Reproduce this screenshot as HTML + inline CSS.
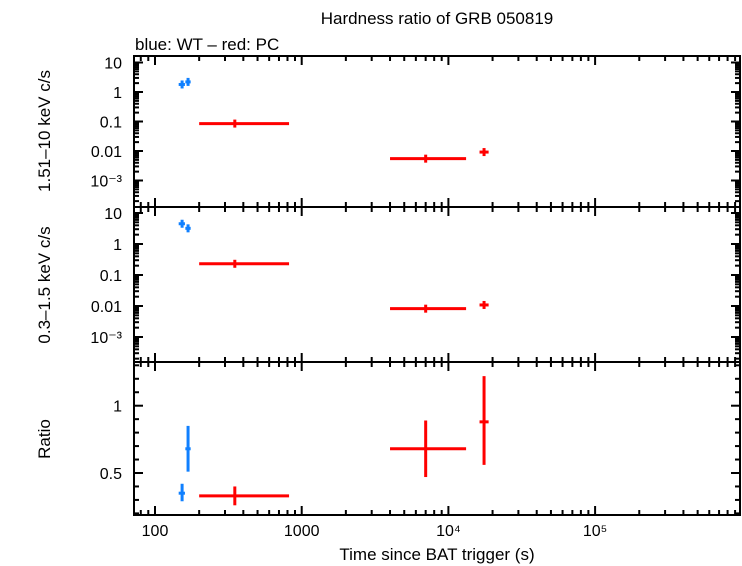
<!DOCTYPE html>
<html><head><meta charset="utf-8"><style>
body{margin:0;background:#fff}
svg{display:block;font-family:"Liberation Sans",sans-serif}
</style></head><body>
<svg id="c" width="742" height="566"></svg>
<script>
const wtTime=[153,168];
const wtTimeLo=[145,161];
const wtTimeHi=[160,175];
const wtHard=[1.8,2.2];
const wtSoft=[4.5,3.2];
const wtRatio=[0.35,0.68];
const wtRatioLo=[0.29,0.51];
const wtRatioHi=[0.42,0.85];
const pcTime=[350,7000,17500];
const pcTimeLo=[200,4000,16300];
const pcTimeHi=[820,13200,18800];
const pcHard=[0.085,0.0055,0.0092];
const pcSoft=[0.23,0.0082,0.0108];
const pcRatio=[0.33,0.68,0.88];
const pcRatioLo=[0.26,0.47,0.56];
const pcRatioHi=[0.40,0.89,1.22];
const xTickLabels=["100","1000","10⁴","10⁵"];
const logYLabels=["10","1","0.1","0.01","10⁻³"];
const ratioTicks=[0.5,1];

const S=document.getElementById('c');const NS='http://www.w3.org/2000/svg';
function el(t,a,p){const e=document.createElementNS(NS,t);for(const k in a)e.setAttribute(k,a[k]);(p||S).appendChild(e);return e;}
const L=134,R=740;
const X=t=>155+146.7*Math.log10(t/100);
const P=[{top:56,bot:207,y:v=>62.5+29.5*(1-Math.log10(v))},
         {top:207,bot:362,y:v=>213+31*(1-Math.log10(v))},
         {top:362,bot:515,y:v=>405.7+134.6*(1-v)}];
P.forEach((p,i)=>{const r=el('rect',{x:L,y:p.top,width:R-L,height:p.bot-p.top,fill:'none',stroke:'#000','stroke-width':2});
});
for(let d=1;d<=5;d++)for(let m=1;m<10;m++){const t=m*Math.pow(10,d);const x=X(t);if(x<L||x>R)continue;
 const len=m==1?9:5;P.forEach(p=>{el('line',{x1:x,x2:x,y1:p.top,y2:p.top+len,stroke:'#000','stroke-width':2});el('line',{x1:x,x2:x,y1:p.bot,y2:p.bot-len,stroke:'#000','stroke-width':2});});}
xTickLabels.forEach((s,i)=>{const t=el('text',{x:X(100*Math.pow(10,i)),y:536,'font-size':16,'text-anchor':'middle'});t.textContent=s;
});
[0,1].forEach(pi=>{const p=P[pi];for(let d=-4;d<=1;d++)for(let m=1;m<10;m++){const v=m*Math.pow(10,d);const y=p.y(v);if(y<p.top||y>p.bot)continue;
 const len=m==1?9:5;el('line',{x1:L,x2:L+len,y1:y,y2:y,stroke:'#000','stroke-width':2});el('line',{x1:R,x2:R-len,y1:y,y2:y,stroke:'#000','stroke-width':2});}
 logYLabels.forEach((s,i)=>{const t=el('text',{x:122,y:p.y(Math.pow(10,1-i))+6,'font-size':16,'text-anchor':'end'});t.textContent=s;
 });});
for(let k=2;k<=13;k++){const v=k/10;const y=P[2].y(v);if(y<P[2].top||y>P[2].bot)continue;const maj=(k==5||k==10);const len=maj?9:5;
 el('line',{x1:L,x2:L+len,y1:y,y2:y,stroke:'#000','stroke-width':2});el('line',{x1:R,x2:R-len,y1:y,y2:y,stroke:'#000','stroke-width':2});}
ratioTicks.forEach(v=>{const t=el('text',{x:122,y:P[2].y(v)+6,'font-size':16,'text-anchor':'end'});t.textContent=String(v);
});
function pt(x,lo,hi,y,ylo,yhi,col,name){const g=el('g',{});
 el('line',{x1:X(lo),x2:X(hi),y1:y,y2:y,stroke:col,'stroke-width':3},g);
 el('line',{x1:X(x),x2:X(x),y1:ylo,y2:yhi,stroke:col,'stroke-width':3},g);}
const blue='#1080ff',red='#ff0000';
wtTime.forEach((t,i)=>{
 let y=P[0].y(wtHard[i]);pt(t,wtTimeLo[i],wtTimeHi[i],y,y-4,y+4,blue,'wt-hard-point');
 y=P[1].y(wtSoft[i]);pt(t,wtTimeLo[i],wtTimeHi[i],y,y-4,y+4,blue,'wt-soft-point');
 pt(t,wtTimeLo[i],wtTimeHi[i],P[2].y(wtRatio[i]),P[2].y(wtRatioHi[i]),P[2].y(wtRatioLo[i]),blue,'wt-ratio-point');});
pcTime.forEach((t,i)=>{
 let y=P[0].y(pcHard[i]);pt(t,pcTimeLo[i],pcTimeHi[i],y,y-4,y+4,red,'pc-hard-point');
 y=P[1].y(pcSoft[i]);pt(t,pcTimeLo[i],pcTimeHi[i],y,y-4,y+4,red,'pc-soft-point');
 pt(t,pcTimeLo[i],pcTimeHi[i],P[2].y(pcRatio[i]),P[2].y(pcRatioHi[i]),P[2].y(pcRatioLo[i]),red,'pc-ratio-point');});
function txt(s,a,name){const t=el('text',a);t.textContent=s;}
txt('Hardness ratio of GRB 050819',{x:437,y:24,'font-size':17,'text-anchor':'middle'},'chart-title');
txt('blue: WT – red: PC',{x:135,y:50,'font-size':17},'legend-text');
txt('Time since BAT trigger (s)',{x:437,y:560,'font-size':17,'text-anchor':'middle'},'x-axis-title');
txt('1.51–10 keV c/s',{x:0,y:0,'font-size':17,'text-anchor':'middle',transform:'translate(50,131) rotate(-90)'},'y-axis-title-hard');
txt('0.3–1.5 keV c/s',{x:0,y:0,'font-size':17,'text-anchor':'middle',transform:'translate(50,285) rotate(-90)'},'y-axis-title-soft');
txt('Ratio',{x:0,y:0,'font-size':17,'text-anchor':'middle',transform:'translate(50,439) rotate(-90)'},'y-axis-title-ratio');
</script>
</body></html>
